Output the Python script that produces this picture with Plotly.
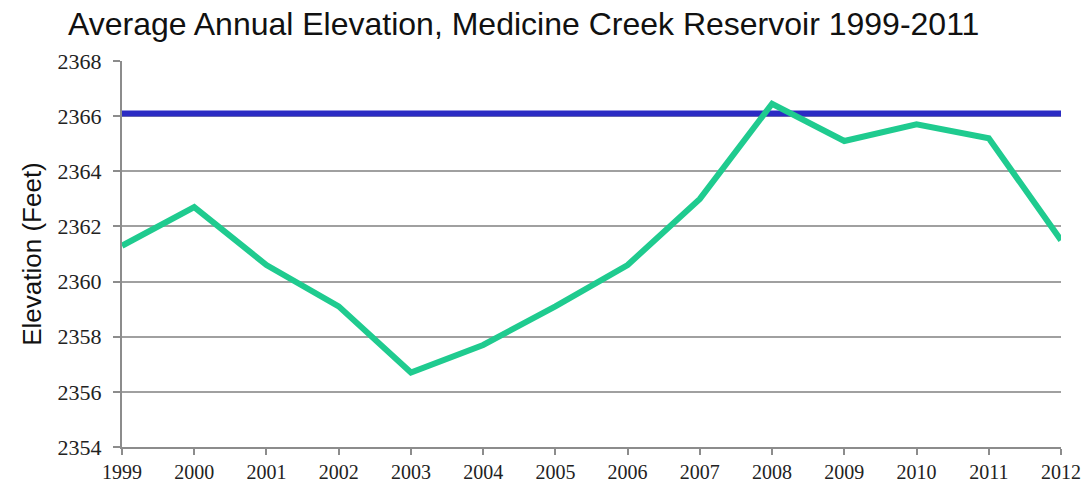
import plotly.graph_objects as go

years = [1999, 2000, 2001, 2002, 2003, 2004, 2005, 2006, 2007, 2008, 2009, 2010, 2011, 2012]
elevation = [2361.3, 2362.7, 2360.6, 2359.1, 2356.7, 2357.7, 2359.1, 2360.6, 2363.0, 2366.45,
             2365.1, 2365.7, 2365.2, 2361.5]
reference_level = 2366.1

fig = go.Figure()
fig.add_trace(go.Scatter(
    x=[years[0], years[-1]], y=[reference_level, reference_level],
    mode="lines", line=dict(color="#2B2BC4", width=6), hoverinfo="skip", showlegend=False,
))
fig.add_trace(go.Scatter(
    x=years, y=elevation, mode="lines",
    line=dict(color="#1FCB8F", width=6), showlegend=False,
))

fig.update_layout(
    width=1088, height=485,
    margin=dict(l=122, r=27, t=61, b=38),
    paper_bgcolor="white", plot_bgcolor="white",
    title=dict(
        text="Average Annual Elevation, Medicine Creek Reservoir 1999-2011",
        x=68 / 1088, xanchor="left", y=1 - 24 / 485, yanchor="middle",
        font=dict(family="Liberation Sans, Arial, sans-serif", size=32, color="#111111"),
    ),
)
fig.update_xaxes(
    range=[1999, 2012], tickmode="array", tickvals=years,
    ticktext=[str(y) for y in years],
    showgrid=False, zeroline=False, automargin=False,
    showline=True, linecolor="#8C8C8C", linewidth=2,
    ticks="outside", ticklen=6, tickcolor="#8C8C8C", tickwidth=2,
    ticklabelstandoff=0,
    tickfont=dict(family="Liberation Serif, Times New Roman, serif", size=20, color="#222222"),
)
fig.update_yaxes(
    range=[2354, 2368], tickmode="linear", tick0=2354, dtick=2,
    showgrid=True, gridcolor="#A0A0A0", gridwidth=2, zeroline=False, automargin=False,
    showline=True, linecolor="#8C8C8C", linewidth=2,
    ticks="outside", ticklen=7, tickcolor="#8C8C8C", tickwidth=2,
    ticklabelstandoff=7,
    tickfont=dict(family="Liberation Serif, Times New Roman, serif", size=22, color="#222222"),
    title=dict(text="Elevation (Feet)", standoff=8,
               font=dict(family="Liberation Sans, Arial, sans-serif", size=26, color="#111111")),
)

fig.write_html("out.html")
